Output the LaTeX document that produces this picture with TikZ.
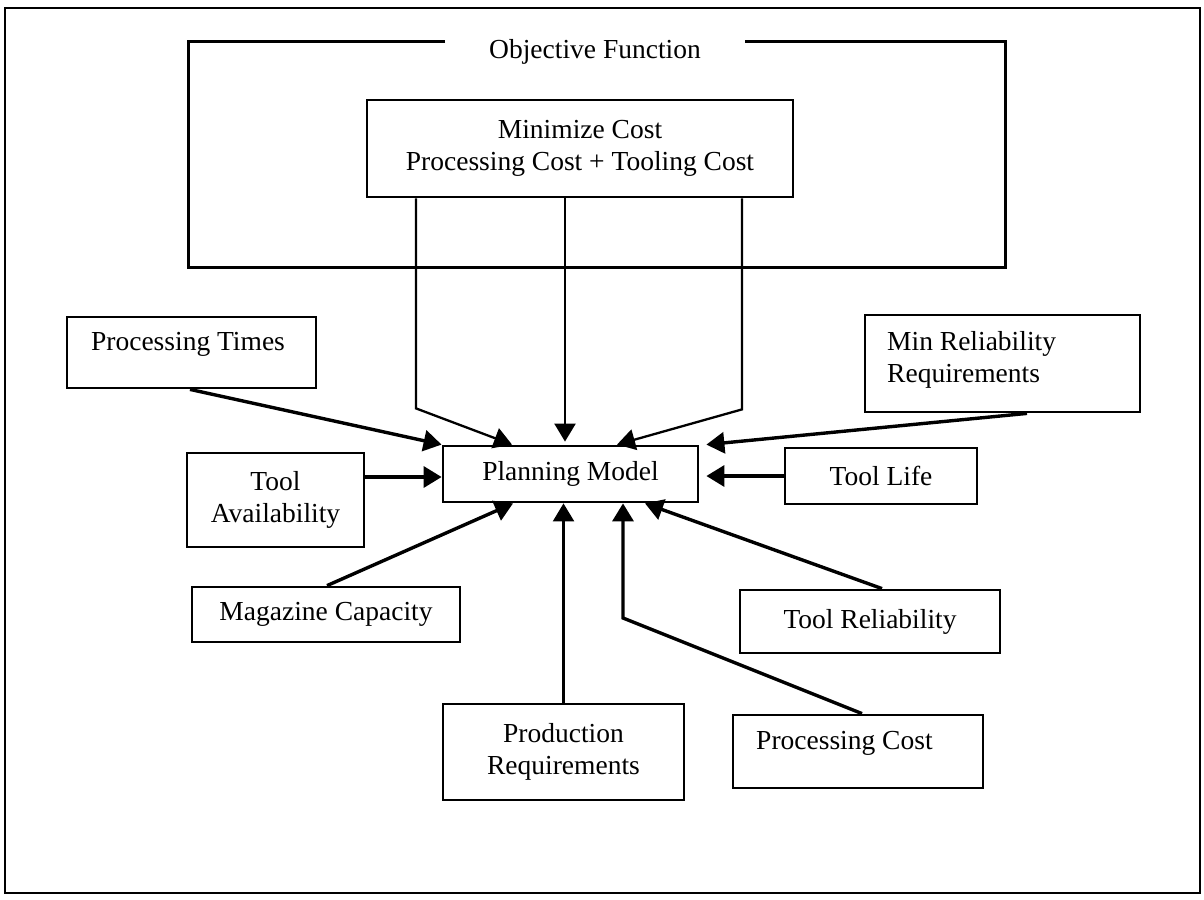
\documentclass[tikz,border=0pt]{standalone}
\usepackage{fontspec}
\setmainfont{Liberation Serif}
\usetikzlibrary{arrows.meta}
\begin{document}
\begin{tikzpicture}[x=1pt,y=-1pt,
  every node/.style={font=\fontsize{27.5}{31.5}\selectfont},
  box/.style={draw, line width=2.8pt, inner sep=0pt, align=center},
  lbl/.style={inner sep=0pt, align=center},
  frameline/.style={line width=2.6pt},
  arr/.style={line width=3.4pt, -{Triangle[length=18pt,width=21pt]}},
  thinarr/.style={line width=2.3pt, line join=miter, -{Triangle[length=18pt,width=21pt]}}]
\useasboundingbox (0,0) rectangle (1204,899);
\fill[white] (0,0) rectangle (1204,899);
% outer frame
\draw[frameline] (5,8) rectangle (1200,893);
% objective function frame
\node[lbl] (of) at (595,52) {Objective Function};
\coordinate (ofl) at (445,42);
\coordinate (ofr) at (745,42);
\draw[frameline, line width=3pt] (ofl) -- (188,42) -- (188,267) -- (1005,267) -- (1005,42) -- (ofr);
% boxes
\node[box, minimum width=426, minimum height=97] (mc) at (580,148.5) {Minimize Cost\\Processing Cost + Tooling Cost};
\node[box, minimum width=255, minimum height=56] (pm) at (570.5,474) {Planning Model};
\node[box, minimum width=249, minimum height=71] (pt) at (191.5,352.5) {};
\node[lbl] (ptt) at (188,344) {Processing Times};
\node[box, minimum width=275, minimum height=97] (mr) at (1002.5,363.5) {};
\node[lbl, align=left, anchor=west] (mrt) at (887,360) {Min Reliability\\Requirements};
\node[box, minimum width=177, minimum height=94] (ta) at (275.5,500) {Tool\\Availability};
\node[box, minimum width=192, minimum height=56] (tl) at (881,476) {Tool Life};
\node[box, minimum width=268, minimum height=55] (mg) at (326,614.5) {Magazine Capacity};
\node[box, minimum width=260, minimum height=63] (tr) at (870,621.5) {Tool Reliability};
\node[box, minimum width=241, minimum height=96] (pr) at (563.5,752) {Production\\Requirements};
\node[box, minimum width=250, minimum height=73] (pc) at (858,751.5) {};
\node[lbl, anchor=west] (pct) at (756,743) {Processing Cost};
% connectors from objective
\draw[thinarr] ([xshift=-164pt]mc.south) -- ++(0,210) -- ([xshift=-58.5pt]pm.north);
\draw[thinarr, shorten >=3pt] ([xshift=-15pt]mc.south) -- ([xshift=-15pt]mc.south |- pm.north);
\draw[thinarr] ([xshift=162pt]mc.south) -- ++(0,211) -- ([xshift=46.5pt]pm.north);
% input arrows
\draw[arr] ([xshift=-1.5pt]pt.south) -- (pm.north west);
\draw[arr] ([xshift=24.5pt]mr.south) -- ([xshift=7pt]pm.north east);
\coordinate (taA) at ([yshift=-3pt]pm.west);
\draw[arr] (ta.east |- taA) -- (taA);
\draw[arr, shorten >=7pt] (tl.west) -- (tl.west -| pm.east);
\draw[arr] ([xshift=1pt]mg.north) -- ([xshift=-57.5pt]pm.south);
\draw[thinarr] (pr.north) -- (pr.north |- pm.south);
\coordinate (pcb) at (623,618);
\draw[arr] ([xshift=4pt]pc.north) -- (pcb) -- (pcb |- pm.south);
\draw[arr] ([xshift=12pt]tr.north) -- ([xshift=74.5pt]pm.south);
\end{tikzpicture}
\end{document}
